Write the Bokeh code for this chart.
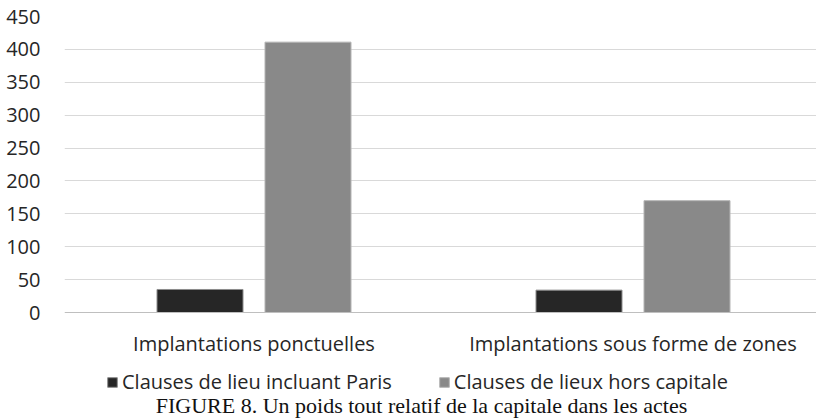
from bokeh.plotting import figure
from bokeh.models import Range1d, FixedTicker, Legend, LegendItem, Label, ColumnDataSource, Span
from bokeh.transform import dodge
from bokeh.core.properties import value
from bokeh.embed import file_html
from bokeh.resources import INLINE

# ---- data ----
categories = ["Implantations ponctuelles", "Implantations sous forme de zones"]
series_names = ["Clauses de lieu incluant Paris", "Clauses de lieux hors capitale"]
paris = [35, 34]
hors_capitale = [411, 170]
y_ticks = [0, 50, 100, 150, 200, 250, 300, 350, 400, 450]
caption = "FIGURE 8. Un poids tout relatif de la capitale dans les actes"

# ---- layout constants (pixels) ----
W, H = 816, 419
LEFT, TOP = 64, 16
ZERO_Y = 312          # pixel row of value 0
CAT_PX = 379.0        # width of one category
frame_w = W - LEFT
ppu = (ZERO_Y - TOP) / (y_ticks[-1] - y_ticks[0])   # pixels per unit
y_bottom = -(H - ZERO_Y) / ppu

def py(row):  # pixel row below zero -> data y
    return -(row - ZERO_Y) / ppu

xpos = [i + 0.5 for i in range(len(categories))]
src = ColumnDataSource(dict(x=xpos, paris=paris, hors=hors_capitale, cat=categories))

p = figure(width=W, height=H, output_backend="svg", toolbar_location=None,
           x_range=Range1d(0, frame_w / CAT_PX), y_range=Range1d(y_bottom, y_ticks[-1]),
           min_border_left=LEFT, min_border_right=0, min_border_top=TOP,
           min_border_bottom=0)
p.outline_line_color = None
p.background_fill_color = "white"
p.border_fill_color = "white"

bw = 86 / CAT_PX
off = 54 / CAT_PX
r1 = p.vbar(x=dodge("x", -off, range=p.x_range), top="paris", width=bw, source=src,
            fill_color="#262626", line_color="#8c8c8c", line_width=1)
r2 = p.vbar(x=dodge("x", off, range=p.x_range), top="hors", width=bw, source=src,
            fill_color="#898989", line_color="#b4b4b4", line_width=1)

# grid
p.xgrid.grid_line_color = None
p.ygrid.grid_line_color = "#d9d9d9"
p.ygrid.grid_line_width = 1
p.ygrid.ticker = FixedTicker(ticks=y_ticks[1:])
p.add_layout(Span(location=0, dimension="width", line_color="#bfbfbf", line_width=1))

# y axis
p.yaxis.ticker = FixedTicker(ticks=y_ticks)
p.yaxis.axis_line_color = None
p.yaxis.major_tick_line_color = None
p.yaxis.minor_tick_line_color = None
p.yaxis.major_label_standoff = 18
p.yaxis.major_label_text_font = "Open Sans"
p.yaxis.major_label_text_font_size = "20px"
p.yaxis.major_label_text_color = "#262626"

# x axis replaced by category labels placed below zero line
p.xaxis.visible = False
p.text(x="x", y=py(343), text="cat", source=src, text_align="center",
       text_baseline="alphabetic", text_font=value("Open Sans"),
       text_font_size="20px", text_color="#262626")

legend = Legend(items=[LegendItem(label=series_names[0], renderers=[r1]),
                       LegendItem(label=series_names[1], renderers=[r2])],
                location=(42, 24), orientation="horizontal",
                glyph_width=12, glyph_height=12, label_standoff=4, spacing=46,
                padding=0, margin=0, border_line_color=None, background_fill_alpha=0,
                label_text_font="Open Sans", label_text_font_size="20px",
                label_text_color="#262626")
p.add_layout(legend)

cap = Label(x=(421 - LEFT) / CAT_PX, y=py(405),
            text=caption, text_align="center", text_baseline="alphabetic",
            text_font="Liberation Serif", text_font_size="22px", text_color="#111111")
p.add_layout(cap)

open("out.html", "w").write(file_html(p, INLINE))
